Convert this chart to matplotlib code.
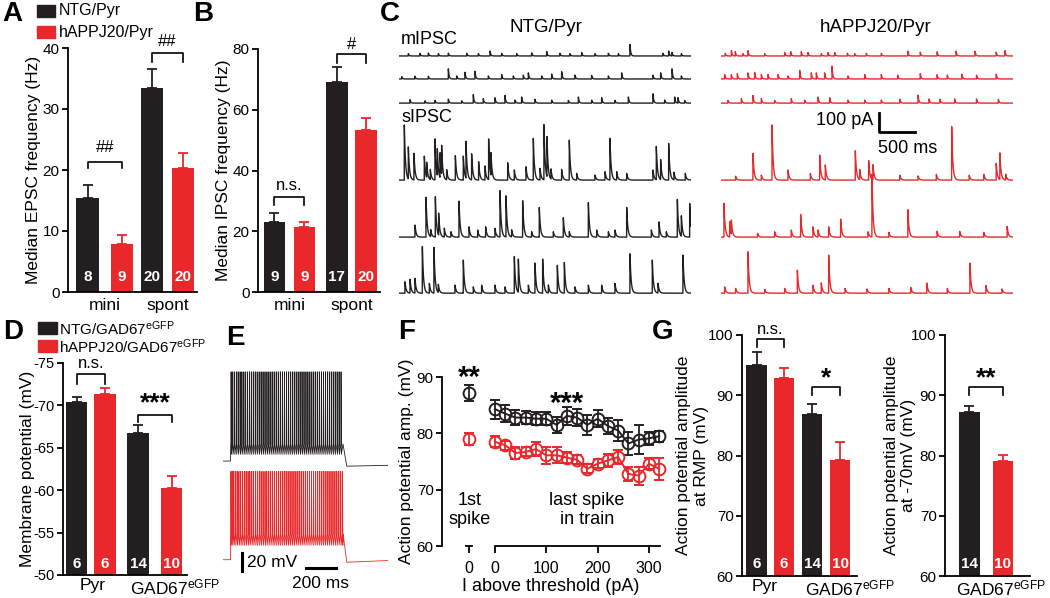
import matplotlib.pyplot as plt
import numpy as np
from matplotlib.patches import Rectangle

plt.rcParams['font.family'] = ['Liberation Sans', 'DejaVu Sans']
plt.rcParams['mathtext.fontset'] = 'custom'
plt.rcParams['mathtext.rm'] = 'Liberation Sans'
plt.rcParams['mathtext.it'] = 'Liberation Sans:italic'
plt.rcParams['axes.linewidth'] = 1.3
plt.rcParams['axes.unicode_minus'] = False

BLK = '#231f20'
RED = '#e8282b'
W, H = 1050, 598
GAD = 'GAD67$^{\\mathrm{eGFP}}$'

# ---- A: median EPSC frequency (Hz)
a_vals = [15.4, 7.9, 33.4, 20.4]
a_errs = [2.2, 1.5, 3.1, 2.4]
a_n = [8, 9, 20, 20]
a_groups = ['mini', 'spont']

# ---- B: median IPSC frequency (Hz)
b_vals = [23.2, 21.5, 69.0, 53.2]
b_errs = [2.8, 1.5, 5.2, 4.1]
b_n = [9, 9, 17, 20]
b_groups = ['mini', 'spont']

# ---- D: membrane potential (mV)
d_vals = [-70.4, -71.3, -66.8, -60.3]
d_errs = [0.6, 0.8, 0.9, 1.4]
d_n = [6, 6, 14, 10]
d_groups = ['Pyr', GAD]

# ---- F: action potential amplitude (mV)
f_current = [0, 20, 40, 60, 80, 100, 120, 140, 160, 180, 200, 220, 240, 260, 280, 300, 320]
f_ntg = [84.3, 83.5, 82.8, 82.8, 82.6, 82.6, 81.5, 83.1, 82.8, 81.5, 82.6, 81.3, 80.5, 78.2, 78.9, 79.1, 79.5]
f_ntg_err = [1.7, 1.5, 1.3, 1.2, 1.2, 1.2, 1.4, 1.6, 1.5, 1.8, 1.5, 1.5, 1.8, 2.0, 2.5, 1.2, 1.0]
f_app = [78.5, 77.9, 76.5, 76.7, 77.2, 76.1, 76.1, 75.7, 75.3, 73.7, 74.6, 75.2, 75.8, 72.8, 72.5, 74.6, 73.7]
f_app_err = [1.0, 0.8, 1.0, 0.8, 1.2, 1.5, 1.4, 1.0, 0.8, 0.8, 0.8, 1.2, 1.3, 1.2, 1.6, 1.0, 2.0]
f_first = [87.2, 79.0]
f_first_err = [1.4, 1.0]

# ---- G: action potential amplitude
g1_vals = [95.0, 92.9, 86.9, 79.3]
g1_errs = [2.2, 1.7, 1.6, 3.0]
g1_n = [6, 6, 14, 10]
g2_vals = [87.2, 79.1]
g2_errs = [1.0, 1.0]
g2_n = [14, 10]

# ---- C: IPSC events (time s, amplitude pA)
c_ntg_m = [
    [(0.128, 12), (0.288, 14), (0.402, 16), (0.539, 12), (0.676, 15), (0.927, 14), (1.087, 12), (1.247, 26),
     (1.406, 14), (1.612, 12), (1.817, 16), (2.023, 23), (2.205, 14), (2.342, 12), (2.502, 18), (2.685, 12),
     (2.868, 14), (3.005, 12), (3.164, 60), (3.616, 14), (3.694, 26), (3.74, 18), (3.868, 12)],
    [(0.037, 12), (0.219, 14), (0.402, 14), (0.676, 53), (0.79, 16), (0.904, 35), (1.041, 40), (1.224, 16),
     (1.406, 23), (1.566, 16), (1.703, 20), (1.772, 32), (1.954, 16), (2.091, 26), (2.228, 38), (2.411, 20),
     (2.639, 18), (2.868, 16), (3.05, 32), (3.479, 20), (3.584, 32), (3.74, 53), (3.868, 16)],
    [(0.151, 18), (0.356, 12), (0.493, 14), (0.676, 21), (0.858, 12), (1.018, 44), (1.155, 23), (1.315, 28),
     (1.452, 40), (1.589, 16), (1.68, 32), (1.863, 20), (2.091, 16), (2.32, 14), (2.457, 32), (2.639, 16),
     (2.776, 28), (2.959, 14), (3.142, 32), (3.479, 49), (3.639, 16), (3.776, 32), (3.822, 28), (3.913, 14)],
]
c_ntg_s = [
    [(0.073, 290), (0.128, 167), (0.205, 140), (0.347, 126), (0.379, 79), (0.429, 53), (0.493, 216),
     (0.525, 140), (0.562, 130), (0.584, 150), (0.653, 53), (0.772, 128), (0.881, 126), (0.918, 193),
     (0.995, 137), (1.091, 96), (1.178, 74), (1.228, 214), (1.26, 119), (1.489, 91), (1.58, 53), (1.74, 70),
     (1.84, 219), (1.932, 61), (1.986, 290), (2.027, 210), (2.082, 53), (2.228, 56), (2.333, 210),
     (2.434, 35), (2.685, 26), (2.822, 44), (2.89, 219), (2.982, 44), (3.119, 35), (3.479, 53),
     (3.525, 175), (3.584, 105), (3.694, 193), (3.767, 40), (3.922, 35)],
    [(0.219, 63), (0.37, 209), (0.434, 37), (0.498, 212), (0.543, 116), (0.621, 46), (0.712, 28), (0.822, 189),
     (0.959, 54), (1.078, 37), (1.187, 54), (1.315, 46), (1.384, 244), (1.466, 216), (1.543, 37),
     (1.694, 191), (1.817, 28), (1.922, 156), (2.114, 28), (2.251, 102), (2.333, 28), (2.594, 181),
     (2.708, 37), (2.868, 28), (2.959, 37), (3.119, 156), (3.457, 37), (3.562, 80), (3.662, 28),
     (3.813, 198), (3.868, 107), (3.982, 177)],
    [(0.082, 60), (0.151, 72), (0.219, 77), (0.32, 244), (0.416, 51), (0.479, 240), (0.539, 42), (0.767, 42),
     (0.881, 174), (1.018, 33), (1.132, 42), (1.315, 42), (1.452, 33), (1.58, 193), (1.635, 174),
     (1.772, 42), (1.863, 158), (1.968, 179), (2.046, 42), (2.169, 146), (2.265, 161), (2.411, 33),
     (2.594, 42), (2.776, 42), (2.959, 51), (3.164, 207), (3.47, 174), (3.548, 51), (3.89, 200)],
]
c_app_m = [
    [(0.059, 14), (0.142, 28), (0.196, 23), (0.301, 12), (0.37, 28), (0.598, 12), (0.872, 18), (0.954, 23),
     (1.1, 23), (1.192, 18), (1.374, 12), (1.466, 18), (1.557, 18), (1.731, 14), (1.831, 12), (1.991, 14),
     (2.196, 14), (2.56, 25), (2.73, 20), (2.96, 22), (3.22, 25), (3.48, 25), (3.77, 20), (3.89, 28)],
    [(0.05, 23), (0.142, 23), (0.224, 28), (0.37, 32), (0.461, 35), (0.553, 23), (0.644, 23), (0.781, 23),
     (0.918, 16), (1.078, 45), (1.237, 32), (1.306, 32), (1.42, 32), (1.521, 67), (1.74, 16), (1.968, 23),
     (2.196, 23), (2.42, 20), (2.73, 28), (2.96, 22), (3.1, 20), (3.3, 25), (3.5, 20), (3.77, 25)],
    [(0.096, 14), (0.279, 23), (0.438, 40), (0.553, 23), (0.735, 14), (0.963, 23), (1.146, 16), (1.329, 32),
     (1.489, 28), (1.74, 16), (1.968, 16), (2.196, 16), (2.45, 20), (2.7, 42), (2.85, 22), (3.0, 20),
     (3.2, 22), (3.5, 22), (3.8, 20)],
]
c_app_s = [
    [(0.2, 20), (0.438, 140), (0.553, 26), (0.699, 290), (0.918, 53), (1.224, 35), (1.352, 132), (1.429, 79),
     (1.84, 154), (1.9, 53), (2.023, 102), (2.082, 79), (2.45, 25), (2.7, 22), (2.95, 30), (3.16, 281),
     (3.4, 25), (3.6, 30), (3.77, 88), (3.82, 140), (3.9, 30)],
    [(0.041, 177), (0.119, 80), (0.142, 72), (0.5, 20), (0.735, 28), (0.963, 37), (1.091, 119), (1.26, 54),
     (1.329, 37), (1.475, 54), (1.639, 95), (2.014, 28), (2.068, 330), (2.3, 25), (2.56, 144), (2.96, 30),
     (3.27, 30), (3.6, 25), (3.92, 56)],
    [(0.05, 33), (0.2, 25), (0.37, 218), (0.6, 20), (0.872, 25), (1.046, 121), (1.26, 42), (1.374, 54),
     (1.475, 200), (1.7, 25), (2.0, 22), (2.3, 25), (2.6, 30), (2.82, 53), (3.1, 25), (3.41, 158),
     (3.63, 40), (3.85, 22)],
]

# ---- E: spike trains (ms, mV)
e_ntg_spikes = [53, 64, 76, 88, 100, 113, 125, 138, 150, 163, 176, 188, 201, 214, 227, 240, 253, 266, 279,
                292, 305, 318, 331, 344, 357, 370, 383, 396, 409, 422, 435, 448, 461, 474, 487, 500, 513, 526,
                539, 552, 565, 578, 591, 604, 617, 630, 643, 656, 669, 682, 695, 708, 721, 734, 747, 760, 773, 786]
e_app_spikes = [52, 61, 71, 82, 93, 105, 117, 129, 141, 153, 166, 178, 191, 203, 216, 228, 241, 253, 266,
                279, 291, 304, 317, 330, 342, 355, 368, 381, 394, 407, 420, 433, 446, 459, 472, 485, 498, 511,
                524, 537, 550, 563, 576, 589, 602, 615, 628, 641, 654, 667, 680, 693, 706, 719, 732, 745, 758,
                771, 784, 796]
# rest, threshold, peak, trough, after-step minimum, end value
e_ntg_levels = [-70, -50, 35, -62, -76, -75]
e_app_levels = [-70, -40, 34, -53, -73, -71]

fig = plt.figure(figsize=(W / 100, H / 100), dpi=100)


def px_axes(x0, y0, x1, y1):
    return fig.add_axes([x0 / W, 1 - y1 / H, (x1 - x0) / W, (y1 - y0) / H])


def ftext(x, y, s, **kw):
    fig.text(x / W, 1 - y / H, s, **kw)


def style(ax):
    for s in ['top', 'right']:
        ax.spines[s].set_visible(False)
    ax.tick_params(direction='out', length=4, width=1.3, labelsize=11.5, pad=2)


def bracket(ax, x1, x2, y, h, label, dy, fs=12, weight='normal'):
    ax.plot([x1, x1, x2, x2], [y - h, y, y, y - h], color='black', lw=1.2, clip_on=False)
    ax.text((x1 + x2) / 2, y + dy, label, ha='center', va='center', fontsize=fs,
            fontweight=weight, clip_on=False)


def bar_panel(ax, xs, vals, errs, ns, bottom, ny, width=0.72, down=False):
    cols = [BLK, RED] * (len(vals) // 2)
    ax.bar(xs, np.array(vals) - bottom, bottom=bottom, width=width, color=cols, zorder=2)
    for x, v, e, c, n in zip(xs, vals, errs, cols, ns):
        yerr = [[e], [0]] if down else [[0], [e]]
        ax.errorbar(x, v, yerr=yerr, fmt='none', ecolor=c, elinewidth=1.3, capsize=3.6,
                    capthick=1.3, zorder=1)
        ax.text(x, ny, str(n), color='white', fontweight='bold', ha='center', va='center',
                fontsize=11, zorder=3)
    style(ax)


def ylab(ax, text, xpos, fs=13):
    ax.set_ylabel(text, fontsize=fs)
    ax.yaxis.label.set_va('center')
    ax.yaxis.set_label_coords(xpos, 0.5)


# ================= A
axA = px_axes(68, 48, 197, 292)
xa = [0.63, 1.74, 2.71, 3.71]
bar_panel(axA, xa, a_vals, a_errs, a_n, 0, 2.5)
axA.set_xlim(0, 4.16)
axA.set_ylim(0, 40)
axA.set_yticks([0, 10, 20, 30, 40])
axA.tick_params(axis='y', labelsize=11)
axA.set_xticks([1.19, 3.21])
axA.set_xticklabels(a_groups, fontsize=12.5)
axA.tick_params(axis='x', length=0, pad=4)
ylab(axA, 'Median EPSC frequency (Hz)', -0.27, fs=12.5)
bracket(axA, xa[0], xa[1], 21.3, 1.0, '##', 2.4)
bracket(axA, xa[2], xa[3], 39.1, 1.4, '##', 1.9)

# ================= B
axB = px_axes(258, 49, 380, 292)
xb = [0.55, 1.55, 2.63, 3.6]
bar_panel(axB, xb, b_vals, b_errs, b_n, 0, 5)
axB.set_xlim(0, 4.07)
axB.set_ylim(0, 80)
axB.set_yticks([0, 20, 40, 60, 80])
axB.tick_params(axis='y', labelsize=11)
axB.set_xticks([1.05, 3.12])
axB.set_xticklabels(b_groups, fontsize=12.5)
axB.tick_params(axis='x', length=0, pad=4)
ylab(axB, 'Median IPSC frequency (Hz)', -0.28, fs=12.5)
bracket(axB, xb[0], xb[1], 31.4, 2.8, 'n.s.', 3.8)
bracket(axB, xb[2], xb[3], 78.5, 3.0, '#', 3.0)

# ================= D
axD = px_axes(63, 363, 187, 575)
xd = [0.45, 1.4, 2.5, 3.62]
bar_panel(axD, xd, d_vals, d_errs, d_n, -50, -51.3, down=True)
axD.set_xlim(0, 4.13)
axD.set_ylim(-50, -75)
axD.set_yticks([-75, -70, -65, -60, -55, -50])
axD.tick_params(axis='y', labelsize=10.5)
axD.set_xticks([1.0, 3.75])
axD.set_xticklabels(d_groups, fontsize=12.5)
axD.tick_params(axis='x', length=0, pad=2)
ylab(axD, 'Membrane potential (mV)', -0.285, fs=12.5)
bracket(axD, xd[0], xd[1], -73.7, -1.2, 'n.s.', -1.3)
bracket(axD, xd[2], xd[3], -68.9, -0.9, '***', -1.4, fs=19, weight='bold')

# ================= G
axG1 = px_axes(742, 335, 857, 576)
xg = [0.52, 1.5, 2.5, 3.5]
bar_panel(axG1, xg, g1_vals, g1_errs, g1_n, 60, 62)
axG1.set_xlim(0, 4.1)
axG1.set_ylim(60, 100)
axG1.set_yticks([60, 70, 80, 90, 100])
axG1.tick_params(axis='y', labelsize=11)
axG1.set_xticks([0.82, 3.86])
axG1.set_xticklabels(['Pyr', GAD], fontsize=12.5)
axG1.tick_params(axis='x', length=0, pad=2)
ylab(axG1, 'Action potential amplitude\nat RMP (mV)', -0.43, fs=12.5)
bracket(axG1, xg[0], xg[1], 99.3, 1.3, 'n.s.', 1.6)
bracket(axG1, xg[2], xg[3], 91.3, 1.3, '*', 1.5, fs=19, weight='bold')

axG2 = px_axes(945, 335, 1030, 576)
xg2 = [0.875, 2.07]
bar_panel(axG2, xg2, g2_vals, g2_errs, g2_n, 60, 62)
axG2.set_xlim(0, 3.04)
axG2.set_ylim(60, 100)
axG2.set_yticks([60, 70, 80, 90, 100])
axG2.tick_params(axis='y', labelsize=11)
axG2.set_xticks([2.0])
axG2.set_xticklabels([GAD], fontsize=12.5)
axG2.tick_params(axis='x', length=0, pad=2)
ylab(axG2, 'Action potential amplitude\nat -70mV (mV)', -0.53, fs=12.5)
bracket(axG2, xg2[0], xg2[1], 91.3, 1.3, '**', 1.5, fs=19, weight='bold')

# ================= F
axF = px_axes(442, 377, 660, 546)
style(axF)
axF.set_xlim(-103, 321.5)
axF.set_ylim(60, 90)
axF.set_yticks([60, 70, 80, 90])
axF.tick_params(axis='y', labelsize=11)
axF.spines['bottom'].set_bounds(0, 321.5)
axF.plot([-56, -44], [60, 60], color='black', lw=1.3, clip_on=False)
axF.set_xticks([-50, 0, 100, 200, 300])
axF.set_xticklabels(['0', '0', '100', '200', '300'])
axF.tick_params(axis='x', length=5, pad=6)
axF.set_xlabel('I above threshold (pA)', fontsize=13, labelpad=1)
ylab(axF, 'Action potential amp. (mV)', -0.165, fs=12.5)
for ys, es, c in [(f_ntg, f_ntg_err, BLK), (f_app, f_app_err, RED)]:
    axF.errorbar(f_current, ys, yerr=es, color=c, lw=1.4, marker='o', ms=8.5, mfc='none',
                 mew=1.4, capsize=3.6, capthick=1.3, elinewidth=1.3, clip_on=False)
for y, e, c in zip(f_first, f_first_err, [BLK, RED]):
    axF.errorbar([-50], [y], yerr=[e], color=c, marker='o', ms=8.5, mfc='none', mew=1.4,
                 capsize=3.6, capthick=1.3, elinewidth=1.3, clip_on=False)
axF.text(-50, 89.9, '**', ha='center', va='center', fontsize=21, fontweight='bold', clip_on=False)
axF.text(140, 85.3, '***', ha='center', va='center', fontsize=21, fontweight='bold')
axF.text(-50, 66.4, '1st\nspike', ha='center', va='center', fontsize=13, linespacing=1.1)
axF.text(179, 66.4, 'last spike\nin train', ha='center', va='center', fontsize=13, linespacing=1.1)

# ================= C
t = np.arange(0, 4.0, 0.001)


def ipsc_trace(events, tau):
    y = np.zeros_like(t)
    for t0, a in events:
        m = t >= t0
        y[m] += a * np.exp(-(t[m] - t0) / tau)
    return y


c_offsets_m = [-84, -205, -332]
c_offsets_s = [-737, -1037, -1332]
for (x0, x1), mlist, slist, col in [((399, 691), c_ntg_m, c_ntg_s, BLK),
                                   ((721, 1013), c_app_m, c_app_s, RED)]:
    ax = px_axes(x0, 40, x1, 300)
    ax.axis('off')
    ax.set_xlim(0, 4)
    ax.set_ylim(-1368, 0)
    for ev, off in zip(mlist, c_offsets_m):
        ax.plot(t, ipsc_trace(ev, 0.010) + off, color=col, lw=1.0)
    for ev, off in zip(slist, c_offsets_s):
        ax.plot(t, ipsc_trace(ev, 0.015) + off, color=col, lw=1.0)
    if col == RED:
        ax.plot([2.16, 2.16, 2.66], [-384, -484, -484], color='black', lw=2, clip_on=False)
        ax.text(2.08, -425, '100 pA', ha='right', va='center', fontsize=13)
        ax.text(2.56, -570, '500 ms', ha='center', va='center', fontsize=13)

ftext(546, 28, 'NTG/Pyr', ha='center', va='center', fontsize=13.5)
ftext(876, 28, 'hAPPJ20/Pyr', ha='center', va='center', fontsize=13.5)
ftext(401, 40, 'mIPSC', ha='left', va='center', fontsize=13)
ftext(401, 117, 'sIPSC', ha='left', va='center', fontsize=13)

# ================= E


def spike_trace(spikes, lv, on=50, off=800, end=1100):
    rest, thr, peak, trough, amin, vend = lv
    ts, vs = [0, on, on + 2], [rest, rest, thr]
    for s in spikes:
        ts += [s, s + 1, s + 3]
        vs += [thr, peak, trough]
    ts += [off, off + 5, off + 25, end]
    vs += [thr, thr - 5, amin, vend]
    return np.array(ts), np.array(vs)


axE = px_axes(223, 365, 388, 575)
axE.axis('off')
axE.set_xlim(0, 1100)
axE.set_ylim(-204, 43)
tb, vb = spike_trace(e_ntg_spikes, e_ntg_levels)
axE.plot(tb, vb, color=BLK, lw=0.6)
tr, vr = spike_trace(e_app_spikes, e_app_levels)
axE.plot(tr, vr - 116, color=RED, lw=0.6)
axE.plot([127, 127], [-178, -199], color='black', lw=2.2, clip_on=False)
axE.plot([553, 753], [-196, -196], color='black', lw=2.2, clip_on=False)
axE.text(160, -189, '20 mV', ha='left', va='center', fontsize=12.5, clip_on=False)
axE.text(653, -214, '200 ms', ha='center', va='center', fontsize=12.5, clip_on=False)

# ================= legends
for y, c, s in [(11, BLK, 'NTG/Pyr'), (32, RED, 'hAPPJ20/Pyr')]:
    fig.add_artist(Rectangle((37 / W, 1 - (y + 6) / H), 18 / W, 12 / H, color=c,
                             transform=fig.transFigure))
    ftext(59, y, s, ha='left', va='center', fontsize=11.5)
for y, c, s in [(328, BLK, 'NTG/' + GAD), (346, RED, 'hAPPJ20/' + GAD)]:
    fig.add_artist(Rectangle((38 / W, 1 - (y + 6) / H), 19 / W, 12 / H, color=c,
                             transform=fig.transFigure))
    ftext(59, y + 1, s, ha='left', va='center', fontsize=11)

# ================= panel letters
for x, y, s in [(12, 14, 'A'), (203, 14, 'B'), (390, 14, 'C'), (13, 332, 'D'),
                (235, 338, 'E'), (407, 332, 'F'), (663, 332, 'G')]:
    ftext(x, y, s, ha='center', va='center', fontsize=20, fontweight='bold')

fig.savefig('out.png', dpi=100)
